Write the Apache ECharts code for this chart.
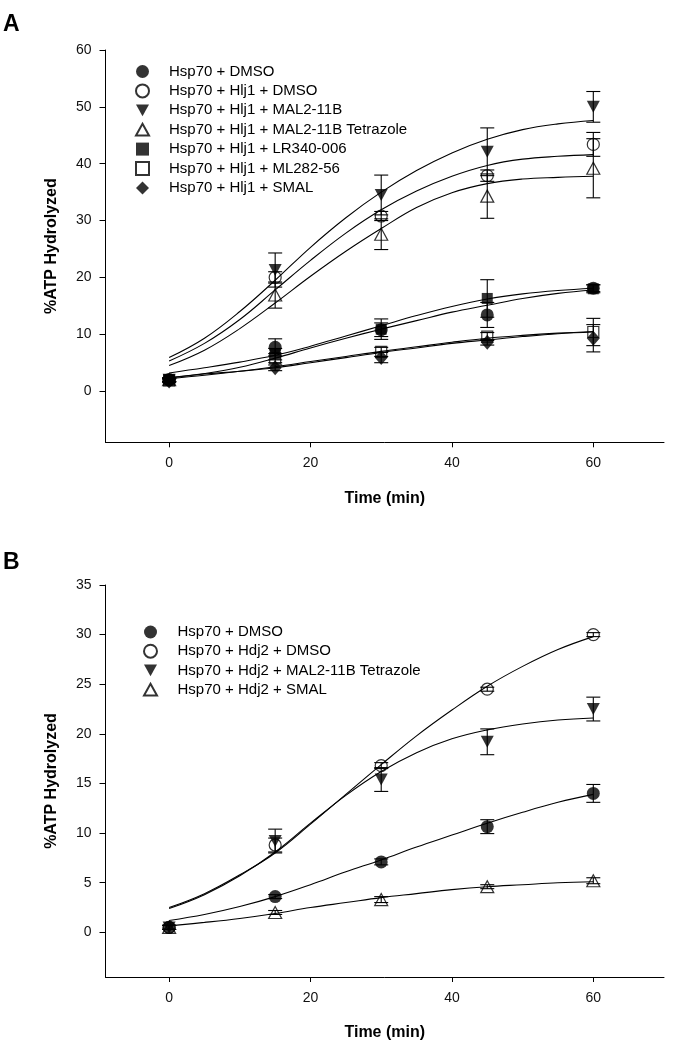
<!DOCTYPE html>
<html>
<head>
<meta charset="utf-8">
<script src="https://cdn.jsdelivr.net/npm/echarts@6/dist/echarts.min.js"></script>
<style>
    html, body {margin: 0; padding: 0; background: #fff;}
    #chart {width: 678px; height: 1048px;}
</style>
</head>
<body>
<div id="chart"></div>
<script>
// sampling times (min)
const timeMin = [0, 15, 30, 45, 60];
const fitTime = [0, 5, 10, 15, 20, 25, 30, 35, 40, 45, 50, 55, 60];

// axis ticks
const xTicks = [0, 20, 40, 60];
const yTicksA = [0, 10, 20, 30, 40, 50, 60];
const yTicksB = [0, 5, 10, 15, 20, 25, 30, 35];

// ---- panel A ----
const aNames = ['Hsp70 + DMSO', 'Hsp70 + Hlj1 + DMSO', 'Hsp70 + Hlj1 + MAL2-11B', 'Hsp70 + Hlj1 + MAL2-11B Tetrazole',
    'Hsp70 + Hlj1 + LR340-006', 'Hsp70 + Hlj1 + ML282-56', 'Hsp70 + Hlj1 + SMAL'];
const aDmso = [2.0, 7.7, 10.8, 13.4, 18.1];
const aDmsoErr = [0.3, 1.5, 1.2, 2.2, 0.6];
const aHljDmso = [2.0, 20.0, 30.8, 37.9, 43.4];
const aHljDmsoErr = [0.3, 1.0, 0.8, 1.0, 2.1];
const aMal = [2.0, 21.3, 34.5, 42.1, 50.0];
const aMalErr = [0.3, 3.0, 3.5, 4.2, 2.7];
const aTetra = [2.0, 16.9, 27.6, 34.3, 39.2];
const aTetraErr = [0.3, 2.3, 2.7, 3.9, 5.2];
const aLr = [2.0, 6.5, 10.9, 16.3, 18.0];
const aLrErr = [0.3, 1.0, 1.8, 3.3, 0.7];
const aMl = [1.9, 5.8, 6.9, 9.6, 10.4];
const aMlErr = [0.3, 0.8, 0.8, 0.7, 2.4];
const aSmal = [1.8, 4.1, 5.9, 8.6, 9.3];
const aSmalErr = [0.3, 0.5, 0.9, 0.5, 2.4];

const aDmsoFit = [2.3, 3.1, 4.2, 5.8, 7.6, 9.3, 10.9, 12.4, 13.9, 15.1, 16.3, 17.2, 17.8];
const aHljDmsoFit = [5.3, 8.4, 12.6, 17.8, 23.0, 27.8, 31.9, 35.2, 37.8, 39.7, 40.8, 41.3, 41.6];
const aMalFit = [5.9, 9.3, 14.0, 19.5, 25.3, 30.5, 35.0, 38.8, 41.9, 44.3, 46.0, 47.0, 47.6];
const aTetraFit = [4.5, 7.2, 11.0, 15.5, 20.2, 24.6, 28.6, 32.3, 34.9, 36.5, 37.3, 37.6, 37.8];
const aLrFit = [3.2, 4.1, 5.1, 6.3, 7.9, 9.7, 11.5, 13.3, 14.9, 16.2, 17.1, 17.7, 18.1];
const aMlFit = [2.2, 2.8, 3.5, 4.3, 5.2, 6.1, 7.0, 7.8, 8.6, 9.3, 9.8, 10.2, 10.5];
const aSmalFit = [2.4, 3.0, 3.5, 4.1, 5.0, 5.9, 6.8, 7.6, 8.4, 9.0, 9.6, 10.1, 10.4];

// ---- panel B ----
const bNames = ['Hsp70 + DMSO', 'Hsp70 + Hdj2 + DMSO', 'Hsp70 + Hdj2 + MAL2-11B Tetrazole', 'Hsp70 + Hdj2 + SMAL'];
const bDmso = [0.5, 3.6, 7.1, 10.65, 14.0];
const bDmsoErr = [0.2, 0.2, 0.3, 0.7, 0.9];
const bHdjDmso = [0.5, 8.8, 16.8, 24.5, 30.0];
const bHdjDmsoErr = [0.2, 0.7, 0.3, 0.2, 0.2];
const bTetra = [0.5, 9.2, 15.4, 19.2, 22.5];
const bTetraErr = [0.2, 1.2, 1.2, 1.3, 1.2];
const bSmal = [0.5, 2.0, 3.3, 4.6, 5.2];
const bSmalErr = [0.2, 0.2, 0.3, 0.2, 0.3];

const bDmsoFit = [1.2, 1.8, 2.6, 3.6, 4.8, 6.1, 7.3, 8.6, 9.8, 11.0, 12.1, 13.1, 13.9];
const bHdjDmsoFit = [2.5, 3.9, 5.8, 8.0, 10.9, 13.9, 16.9, 19.8, 22.4, 24.8, 26.8, 28.5, 29.8];
const bTetraFit = [2.4, 3.8, 5.7, 8.1, 11.0, 13.8, 16.2, 18.1, 19.5, 20.4, 21.0, 21.4, 21.6];
const bSmalFit = [0.65, 1.0, 1.4, 1.9, 2.5, 3.0, 3.5, 3.9, 4.3, 4.6, 4.8, 5.0, 5.1];

const FONT = 'Liberation Sans, Arial, sans-serif';
const DOWN_TRI = 'path://M0,0 L10,0 L5,9 Z';
const UP_TRI = 'path://M5,0 L10,9 L0,9 Z';

// marker looks: [symbol, size, filled]
const M = {
    fc: ['circle', 13, true], oc: ['circle', 12, false],
    ft: [DOWN_TRI, [13, 12], true], ot: [UP_TRI, [13, 12], false],
    fs: ['rect', 11, true], os: ['rect', 11, false],
    fd: ['diamond', [13, 15], true]
};

const series = [];

function addGroup(gi, name, mean, err, fit, mk) {
    // fitted curve
    series.push({
        type: 'line', xAxisIndex: gi, yAxisIndex: gi, smooth: 0.4, showSymbol: false, silent: true,
        lineStyle: {color: '#000', width: 1.1}, z: 1,
        data: fitTime.map((t, i) => [t, fit[i]])
    });
    // error bars
    series.push({
        type: 'custom', xAxisIndex: gi, yAxisIndex: gi, silent: true, z: 2,
        data: timeMin.map((t, i) => [t, mean[i] - err[i], mean[i] + err[i]]),
        renderItem: function (params, api) {
            const hi = api.coord([api.value(0), api.value(2)]);
            const lo = api.coord([api.value(0), api.value(1)]);
            const w = 7, st = {stroke: '#000', lineWidth: 1.1};
            return {
                type: 'group', children: [
                    {type: 'line', shape: {x1: hi[0], y1: hi[1], x2: lo[0], y2: lo[1]}, style: st},
                    {type: 'line', shape: {x1: hi[0] - w, y1: hi[1], x2: hi[0] + w, y2: hi[1]}, style: st},
                    {type: 'line', shape: {x1: lo[0] - w, y1: lo[1], x2: lo[0] + w, y2: lo[1]}, style: st}
                ]
            };
        }
    });
    // markers
    series.push({
        type: 'scatter', name: name, xAxisIndex: gi, yAxisIndex: gi, z: 3,
        symbol: mk[0], symbolSize: mk[1],
        itemStyle: mk[2] ? {color: '#000', borderColor: '#000', borderWidth: 0}
            : {color: 'rgba(255,255,255,0)', borderColor: '#000', borderWidth: 1.2},
        data: timeMin.map((t, i) => [t, mean[i]])
    });
}

addGroup(0, aNames[0], aDmso, aDmsoErr, aDmsoFit, M.fc);
addGroup(0, aNames[1], aHljDmso, aHljDmsoErr, aHljDmsoFit, M.oc);
addGroup(0, aNames[2], aMal, aMalErr, aMalFit, M.ft);
addGroup(0, aNames[3], aTetra, aTetraErr, aTetraFit, M.ot);
addGroup(0, aNames[4], aLr, aLrErr, aLrFit, M.fs);
addGroup(0, aNames[5], aMl, aMlErr, aMlFit, M.os);
addGroup(0, aNames[6], aSmal, aSmalErr, aSmalFit, M.fd);

addGroup(1, bNames[0], bDmso, bDmsoErr, bDmsoFit, M.fc);
addGroup(1, bNames[1], bHdjDmso, bHdjDmsoErr, bHdjDmsoFit, M.oc);
addGroup(1, bNames[2], bTetra, bTetraErr, bTetraFit, M.ft);
addGroup(1, bNames[3], bSmal, bSmalErr, bSmalFit, M.ot);

const axisLine = {show: true, onZero: false, lineStyle: {color: '#000', width: 1}};
const tickLbl = {color: '#111', fontSize: 14, fontFamily: FONT};

function xAxis(gi) {
    return {
        type: 'value', gridIndex: gi, min: -9, max: 70,
        name: 'Time (min)', nameLocation: 'middle', nameGap: 48,
        nameTextStyle: {color: '#000', fontSize: 16, fontWeight: 'bold', fontFamily: FONT},
        axisLine: axisLine, splitLine: {show: false},
        axisTick: {show: true, length: 5, customValues: xTicks, lineStyle: {color: '#000'}},
        axisLabel: Object.assign({margin: 14, customValues: xTicks}, tickLbl)
    };
}

function yAxis(gi, min, max, ticks) {
    return {
        type: 'value', gridIndex: gi, min: min, max: max,
        name: '%ATP Hydrolyzed', nameLocation: 'middle', nameGap: 46,
        nameTextStyle: {color: '#000', fontSize: 16, fontWeight: 'bold', fontFamily: FONT},
        axisLine: axisLine, splitLine: {show: false},
        axisTick: {show: true, length: 6, customValues: ticks, lineStyle: {color: '#000'}},
        axisLabel: Object.assign({margin: 14, customValues: ticks}, tickLbl)
    };
}

function legend(names, left, top, gap, pad) {
    return {
        orient: 'vertical', left: left, top: top, padding: 0, itemGap: gap,
        itemWidth: 13, itemHeight: 13, data: names, selectedMode: false,
        textStyle: {color: '#000', fontSize: 15, fontFamily: FONT, lineHeight: 15, padding: [0, 0, 0, pad]}
    };
}

const chart = echarts.init(document.getElementById('chart'), null, {renderer: 'canvas'});
chart.setOption({
    animation: false,
    backgroundColor: '#fff',
    grid: [
        {left: 105.5, top: 50, width: 558.5, height: 392.3},
        {left: 105.5, top: 585, width: 558.5, height: 392}
    ],
    xAxis: [xAxis(0), xAxis(1)],
    yAxis: [yAxis(0, -9, 60, yTicksA), yAxis(1, -4.5, 35, yTicksB)],
    legend: [
        legend(aNames, 135, 64, 4.4, 15),
        legend(bNames, 143, 624.5, 4.2, 15.5)
    ],
    graphic: [
        {type: 'text', left: 3, top: 13, style: {text: 'A', fontSize: 23, fontWeight: 'bold', fontFamily: FONT, fill: '#000'}},
        {type: 'text', left: 3, top: 551, style: {text: 'B', fontSize: 23, fontWeight: 'bold', fontFamily: FONT, fill: '#000'}}
    ],
    series: series
});
</script>
</body>
</html>
